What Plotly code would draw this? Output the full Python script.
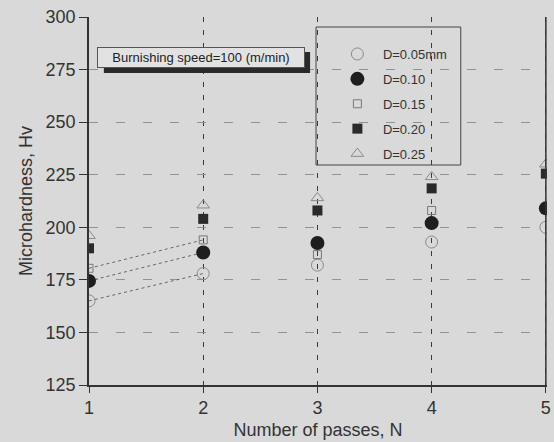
import plotly.graph_objects as go

passes = [1, 2, 3, 4, 5]
d005 = [165, 178, 182, 193, 200]
d010 = [174.5, 188, 192.5, 202, 209]
d015 = [180.5, 194, 187, 208, None]
d020 = [190, 204, 208, 218.5, 225.5]
d025 = [196, 210.5, 214, 224, 230]
y_ticks = [125, 150, 175, 200, 225, 250, 275, 300]

BG = "#d9d9d9"
FONT = "Liberation Sans, Arial, sans-serif"

fig = go.Figure()

# dotted connecting lines (first segment visible in reference)
for ys in (d005, d010, d015):
    fig.add_trace(go.Scatter(x=passes[:2], y=ys[:2], mode="lines",
                             line=dict(color="#666", width=1, dash="dot"),
                             showlegend=False, hoverinfo="skip"))

series = [
    ("D=0.05mm", d005, dict(symbol="circle-open", size=12, color="#8a8a8a", line=dict(width=1, color="#8a8a8a"))),
    ("D=0.10", d010, dict(symbol="circle", size=14, color="#1e1e1e")),
    ("D=0.15", d015, dict(symbol="square-open", size=8, color="#777", line=dict(width=1, color="#777"))),
    ("D=0.20", d020, dict(symbol="square", size=10, color="#2a2a2a")),
    ("D=0.25", d025, dict(symbol="triangle-up-open", size=11, color="#8a8a8a", line=dict(width=1, color="#8a8a8a"))),
]
for i, (name, ys, mk) in enumerate(series):
    fig.add_trace(go.Scatter(x=passes, y=ys, mode="markers", name=name,
                             marker=mk, legendgroup=f"g{i}"))

W, H = 554, 442
ml, mr, mt, mb = 89, 3, 17, 57
pw, ph = W - ml - mr, H - mt - mb

def px(xp):
    return (xp - ml) / pw

def py(yp):
    return (H - mb - yp) / ph

shapes = [
    # right solid line at x=5
    dict(type="line", xref="x", yref="paper", x0=5, x1=5, y0=0, y1=1,
         line=dict(color="#333", width=1.5)),
    # legend box
    dict(type="rect", xref="paper", yref="paper", x0=px(318), x1=px(464),
         y0=py(165), y1=py(27), line=dict(color="#444", width=1)),
    # shadow of annotation
    dict(type="rect", xref="paper", yref="paper", x0=px(104), x1=px(312),
         y0=py(73), y1=py(52), line=dict(width=0), fillcolor="#2a2a2a"),
]

fig.update_layout(
    width=W, height=H,
    margin=dict(l=ml, r=mr, t=mt, b=mb),
    paper_bgcolor=BG, plot_bgcolor=BG,
    font=dict(family=FONT, color="#333"),
    shapes=shapes,
    legend=dict(x=px(334), y=py(39), xanchor="left", yanchor="top",
                bgcolor="rgba(0,0,0,0)", borderwidth=0, itemwidth=41,
                font=dict(size=13, color="#333", family=FONT),
                traceorder="grouped", tracegroupgap=5),
    annotations=[dict(
        text="Burnishing speed=100 (m/min)", xref="paper", yref="paper",
        x=px(202), y=py(57), xanchor="center", yanchor="middle",
        showarrow=False, width=204, height=17,
        font=dict(size=13, color="#222", family=FONT),
        bgcolor="#e2e2e2", bordercolor="#555", borderwidth=1, borderpad=1,
    )],
)

fig.update_xaxes(
    range=[1, 5.01], tickvals=passes, ticktext=[str(p) for p in passes],
    title=dict(text="Number of passes, N", font=dict(size=18, color="#333"), standoff=6),
    tickfont=dict(size=18, color="#333"), ticklabeloverflow="allow",
    showline=True, linecolor="#333", linewidth=1.5,
    ticks="outside", ticklen=6, tickcolor="#333",
    showgrid=True, gridcolor="#3a3a3a", griddash="5px,8px", gridwidth=1,
    zeroline=False,
)
fig.update_yaxes(
    range=[125, 300], tickvals=y_ticks,
    title=dict(text="Microhardness, Hv", font=dict(size=18, color="#333"), standoff=8),
    tickfont=dict(size=18, color="#333"),
    showline=True, linecolor="#333", linewidth=1.5,
    ticks="outside", ticklen=8, tickcolor="#333",
    showgrid=True, gridcolor="#929292", griddash="9px,18px", gridwidth=1,
    zeroline=False,
)

fig.write_html("out.html")
